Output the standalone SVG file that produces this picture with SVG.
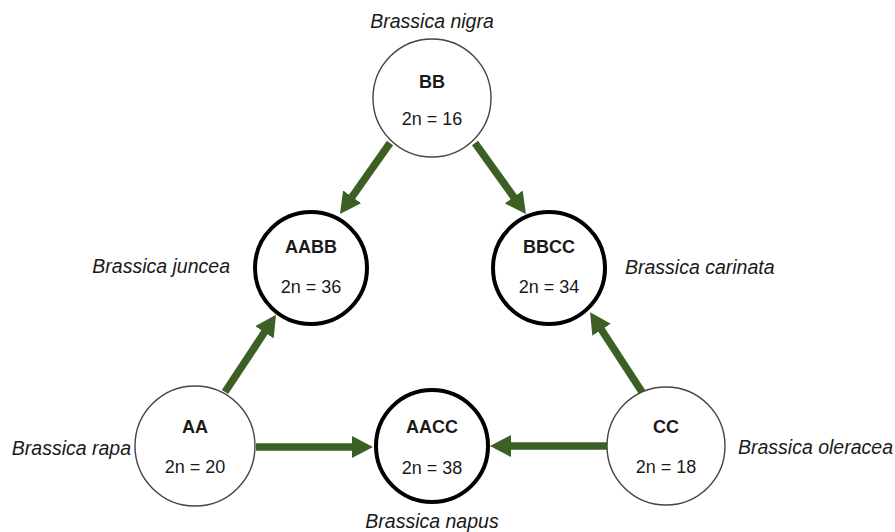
<svg xmlns="http://www.w3.org/2000/svg" width="895" height="532" viewBox="0 0 895 532">
<style>
.thin{fill:#fff;stroke:#444;stroke-width:1.4}
.thick{fill:#fff;stroke:#000;stroke-width:4}
.g{font-family:"Liberation Sans",Arial,sans-serif;font-size:18px;fill:#1a1a1a;text-anchor:middle}
.b{font-weight:bold}
.sp{font-family:"Liberation Sans",Arial,sans-serif;font-style:italic;font-size:19.5px;fill:#1a1a1a}
.arr{stroke:#3c5f24;stroke-width:7.5;fill:none;marker-end:url(#ah)}
</style>
<defs>
<marker id="ah" markerUnits="userSpaceOnUse" markerWidth="22" markerHeight="22" refX="1" refY="11" orient="auto" viewBox="0 0 22 22">
<path d="M0,0 L21,11 L0,22 z" fill="#3c5f24"/>
</marker>
</defs>
<rect width="895" height="532" fill="#fff"/>
<g id="connectors">
<line class="arr" x1="390" y1="143" x2="351.5" y2="197.6"/>
<line class="arr" x1="475" y1="143" x2="514.3" y2="197.8"/>
<line class="arr" x1="225" y1="392" x2="265" y2="331.5"/>
<line class="arr" x1="642" y1="392" x2="601" y2="329"/>
<line class="arr" x1="256" y1="447" x2="353" y2="447"/>
<line class="arr" x1="607" y1="446" x2="510" y2="446"/>
</g>
<g id="BB">
<circle class="thin" cx="432" cy="98" r="59"/>
<text class="g b" x="432" y="88">BB</text>
<text class="g" x="432" y="125">2n = 16</text>
<text class="sp" x="432" y="28" text-anchor="middle">Brassica nigra</text>
</g>
<g id="AABB">
<circle class="thick" cx="311" cy="268" r="56"/>
<text class="g b" x="311" y="253">AABB</text>
<text class="g" x="311" y="293">2n = 36</text>
<text class="sp" x="230" y="273" text-anchor="end">Brassica juncea</text>
</g>
<g id="BBCC">
<circle class="thick" cx="549" cy="268" r="56"/>
<text class="g b" x="549" y="253">BBCC</text>
<text class="g" x="549" y="293">2n = 34</text>
<text class="sp" x="625" y="274">Brassica carinata</text>
</g>
<g id="AA">
<circle class="thin" cx="195" cy="446" r="60"/>
<text class="g b" x="195" y="433">AA</text>
<text class="g" x="195" y="473">2n = 20</text>
<text class="sp" x="131" y="455" text-anchor="end">Brassica rapa</text>
</g>
<g id="AACC">
<circle class="thick" cx="432" cy="446" r="56"/>
<text class="g b" x="432" y="433">AACC</text>
<text class="g" x="432" y="474">2n = 38</text>
<text class="sp" x="432" y="528" text-anchor="middle">Brassica napus</text>
</g>
<g id="CC">
<circle class="thin" cx="666" cy="446" r="59"/>
<text class="g b" x="666" y="433">CC</text>
<text class="g" x="666" y="473">2n = 18</text>
<text class="sp" x="738" y="454">Brassica oleracea</text>
</g>
</svg>
